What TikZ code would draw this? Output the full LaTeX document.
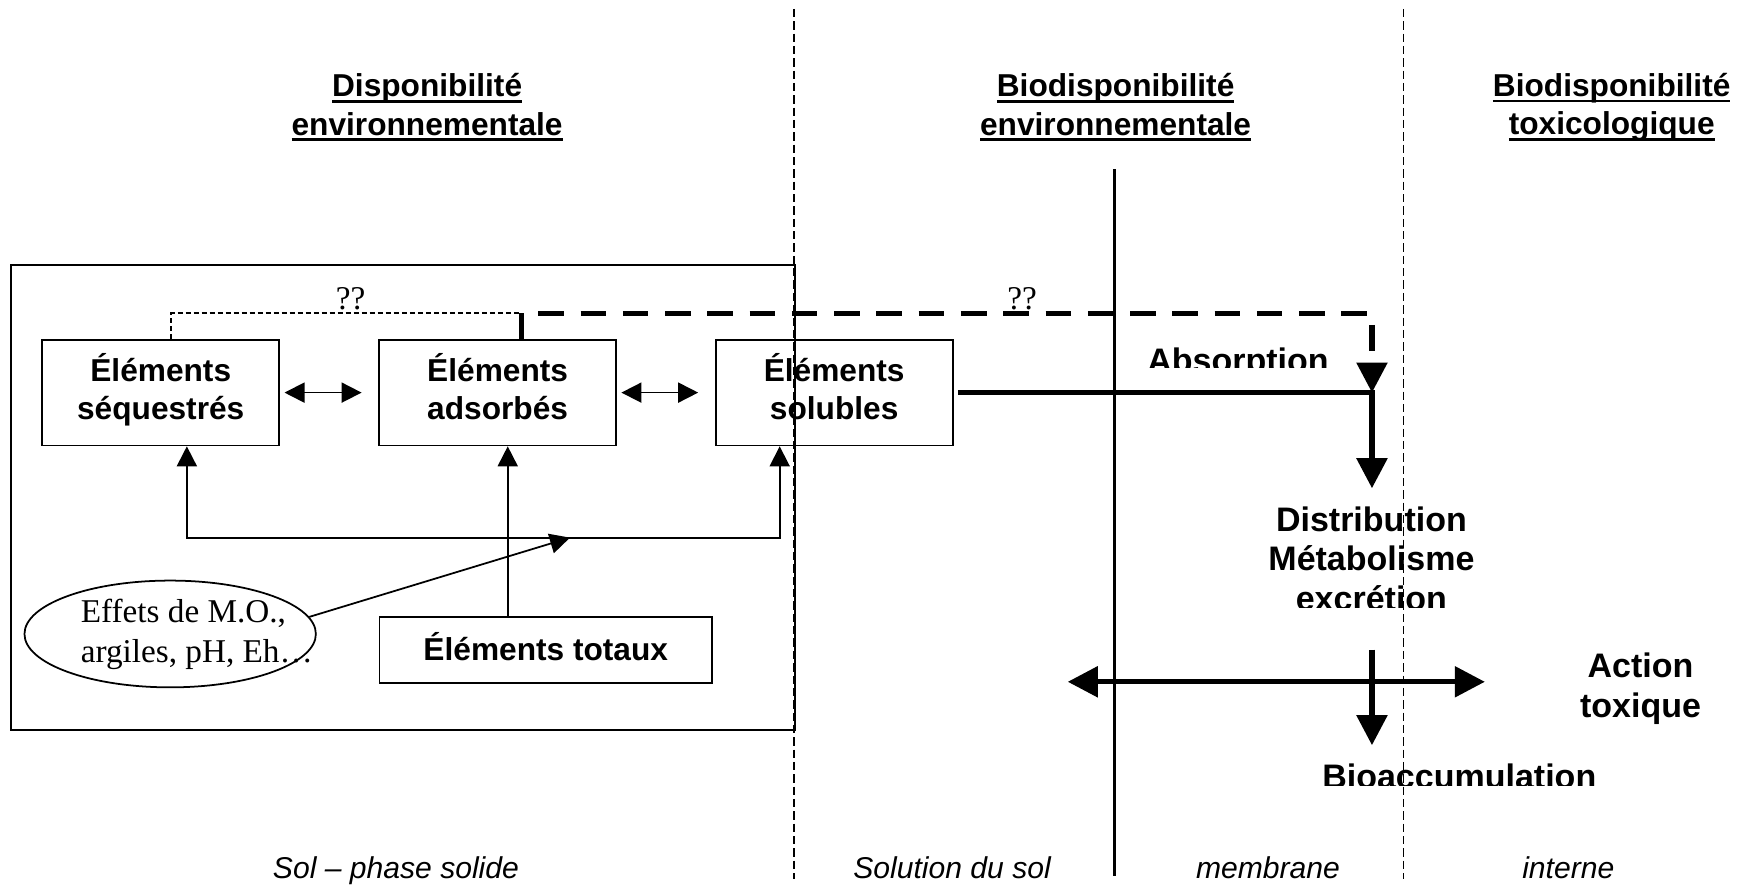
\documentclass[tikz,border=0pt]{standalone}
\usepackage{fontspec}
\setmainfont{Liberation Serif}
\setsansfont{Liberation Sans}
\usepackage{tikz}
\usetikzlibrary{positioning}
\usetikzlibrary{shapes.geometric}
\usetikzlibrary{arrows.meta}

\newcommand{\souligne}[1]{\setbox0\hbox{#1}\rlap{\rule[-1.6pt]{\wd0}{0.75pt}}\box0}
\newcommand{\bas}[1]{\rule[-#1]{0pt}{0pt}}

\begin{document}
\begin{tikzpicture}
  [
    boite/.style={
       draw=black,
       line width=0.45pt,
       minimum width=2.13cm,
       minimum height=0.95cm,
       inner sep=0pt,
       align=center,
       font=\sffamily\bfseries\fontsize{8.1}{9.8}\selectfont
    },
    entete/.style={
       align=center,
       font=\sffamily\bfseries\fontsize{8.1}{9.9}\selectfont
    },
    etape/.style={
       align=center,
       anchor=base,
       inner sep=0pt,
       font=\sffamily\bfseries\fontsize{8.7}{10.1}\selectfont
    },
    milieu/.style={
       anchor=base,
       inner sep=0pt,
       font=\sffamily\itshape\fontsize{7.7}{9}\selectfont
    },
    interro/.style={
       anchor=base,
       inner sep=0pt,
       font=\rmfamily\fontsize{8.5}{10}\selectfont
    },
    fin/.style={
       line width=0.45pt,
       -{Triangle[length=0.18cm,width=0.18cm]}
    },
    findouble/.style={
       line width=0.45pt,
       {Triangle[length=0.18cm,width=0.18cm]}-{Triangle[length=0.18cm,width=0.18cm]}
    },
    epais/.style={
       line width=1.36pt,
       -{Triangle[length=0.27cm,width=0.27cm]}
    },
    epaisdouble/.style={
       line width=1.36pt,
       {Triangle[length=0.27cm,width=0.27cm]}-{Triangle[length=0.27cm,width=0.27cm]}
    },
    limite/.style={
       line width=0.4pt,
       dash pattern=on 0.075cm off 0.036cm
    }
  ]
  \useasboundingbox (0,0) rectangle (15.68,8.00);

  \node (entA) at ( 3.84,7.035) [entete] {\souligne{Disponibilité}\\\souligne{environnementale}};
  \node (entB) at (10.03,7.035) [entete] {\souligne{Biodisponibilité}\\\souligne{environnementale}};
  \node (entC) at (14.49,7.035) [entete] {\souligne{Biodisponibilité}\\\souligne{toxicologique}};

  \draw [limite] ( 7.14,7.92) -- ( 7.14,0.10);
  \draw [limite] (12.62,7.92) -- (12.62,0.10);
  \draw [line width=0.7pt] (10.02,6.48) -- (10.02,0.12);
  \draw [line width=0.45pt] (0.10,1.44) rectangle (7.15,5.62);

  \node (seq) at (1.445,4.47) [boite] {Éléments\\séquestrés\bas{0.11cm}};
  \node (ads) at (4.474,4.47) [boite] {Éléments\\adsorbés\bas{0.11cm}};
  \node (sol) at (7.500,4.47) [boite] {Éléments\\solubles\bas{0.11cm}};
  \node (tot) at (4.907,2.156) [boite, minimum width=2.99cm, minimum height=0.59cm] {Éléments totaux\bas{0.06cm}};
  \node (eff) at (1.53,2.30) [ellipse, draw, line width=0.45pt, minimum width=2.62cm,
        minimum height=0.96cm, inner sep=0pt] {};
  \node (effTexte) at (0.72,2.30) [anchor=west, inner sep=0pt, align=left,
        font=\rmfamily\fontsize{8.5}{10.2}\selectfont] {Effets de M.O.,\\argiles, pH, Eh\ldots};

  \coordinate (crochetG) at (1.68,3.166);
  \coordinate (crochetD) at (7.01,3.166);
  \coordinate (montee)   at (4.565,3.166);
  \coordinate (effet)    at (5.125,3.166);
  \coordinate (coinG)    at (1.538,5.183);
  \coordinate (coinD)    at (4.69,5.183);
  \coordinate (jonction) at (12.335,4.47);
  \coordinate (versDis)  at (12.335,3.61);
  \coordinate (actG)     at ( 9.60,1.87);
  \coordinate (actD)     at (13.35,1.87);
  \coordinate (accH)     at (12.335,2.16);
  \coordinate (accB)     at (12.335,1.30);

  \draw [findouble, shorten <=0.04cm, shorten >=0.15cm] (seq) -- (ads);
  \draw [findouble, shorten <=0.04cm, shorten >=0.15cm] (ads) -- (sol);
  \draw [findouble] (seq.south -| crochetG) -- (crochetG) -- (crochetD) -- (sol.south -| crochetD);
  \draw [fin] (tot.north -| montee) -- (ads.south -| montee);
  \draw [fin] (eff.7) -- (effet);

  \draw [line width=0.45pt, dash pattern=on 0.048cm off 0.024cm] (seq.north -| coinG) -- (coinG) -- (coinD);
  \node (qA) at (3.153,5.22) [interro] {??};

  \draw [epais, dash pattern=on 0.23cm off 0.15cm] (ads.north -| coinD) -- (coinD) -- (jonction |- coinD) -- (jonction);
  \node (qB) at (9.19,5.22) [interro] {??};

  \draw [epais, shorten <=0.04cm] (sol.east) -- (jonction) -- (versDis);
  \draw [epaisdouble] (actG) -- (actD);
  \draw [epais] (accH) -- (accB);

  \begin{scope}
    \clip (10.2,4.694) rectangle (12.2,5.2);
    \node (absorption) at (11.13,4.65) [etape] {Absorption};
  \end{scope}
  \node (distr) at (12.33,3.225) [etape] {Distribution};
  \node (metab) at (12.33,2.870) [etape] {Métabolisme};
  \begin{scope}
    \clip (11.0,2.535) rectangle (13.6,2.9);
    \node (excr) at (12.33,2.515) [etape] {excrétion};
  \end{scope}
  \node (action)  at (14.75,1.91) [etape] {Action};
  \node (toxique) at (14.75,1.55) [etape] {toxique};
  \begin{scope}
    \clip (11.5,0.94) rectangle (14.8,1.3);
    \node (bioacc) at (13.12,0.91) [etape] {Bioaccumulation};
  \end{scope}

  \node (solide)   at ( 3.56,0.10) [milieu] {Sol -- phase solide};
  \node (solution) at ( 8.56,0.10) [milieu] {Solution du sol};
  \node (membrane) at (11.40,0.10) [milieu] {membrane};
  \node (interne)  at (14.10,0.10) [milieu] {interne};
\end{tikzpicture}
\end{document}
